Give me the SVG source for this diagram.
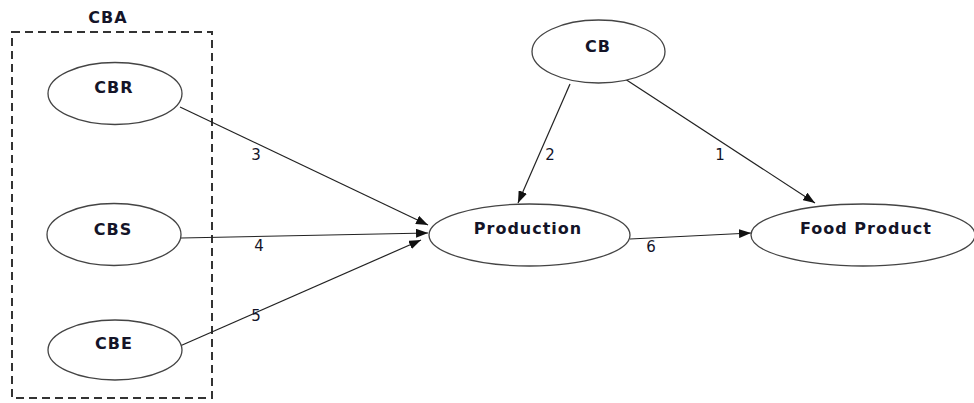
<svg xmlns="http://www.w3.org/2000/svg" width="974" height="403" viewBox="0 0 974 403">
<defs>
<style>
.node{fill:#fff;stroke:#444;stroke-width:1.3}
.lbl{font-family:"DejaVu Sans",sans-serif;font-weight:bold;font-size:16px;letter-spacing:1px;fill:#141428;text-anchor:middle}
.num{font-family:"DejaVu Sans",sans-serif;font-size:15px;fill:#141428;text-anchor:middle}
.edge{stroke:#222;stroke-width:1.2;fill:none;marker-end:url(#ah)}
</style>
<marker id="ah" markerUnits="userSpaceOnUse" markerWidth="13" markerHeight="9" refX="12" refY="4.5" orient="auto">
<path d="M0,0 L12,4.5 L0,9 z" fill="#111"/>
</marker>
</defs>
<rect width="974" height="403" fill="#fff"/>
<g id="group-CBA">
<rect x="12" y="32" width="200" height="366" fill="none" stroke="#333" stroke-width="2" stroke-dasharray="8,5"/>
<text class="lbl" x="108" y="23">CBA</text>
</g>
<g id="connectors">
<line class="edge" x1="180" y1="107" x2="428" y2="225"/>
<line class="edge" x1="181" y1="238" x2="428" y2="233"/>
<line class="edge" x1="180" y1="346" x2="421" y2="240"/>
<line class="edge" x1="570" y1="84" x2="518" y2="203"/>
<line class="edge" x1="622" y1="77" x2="815" y2="203"/>
<line class="edge" x1="630" y1="239" x2="751" y2="233"/>
<text class="num" x="256" y="160">3</text>
<text class="num" x="259" y="251">4</text>
<text class="num" x="256" y="321">5</text>
<text class="num" x="550" y="160">2</text>
<text class="num" x="720" y="160">1</text>
<text class="num" x="651" y="252">6</text>
</g>
<g id="node-CBR">
<ellipse class="node" cx="115" cy="93.5" rx="67" ry="31"/>
<text class="lbl" x="114" y="93">CBR</text>
</g>
<g id="node-CBS">
<ellipse class="node" cx="114" cy="234.5" rx="67" ry="31"/>
<text class="lbl" x="113" y="235">CBS</text>
</g>
<g id="node-CBE">
<ellipse class="node" cx="115" cy="350" rx="67" ry="30"/>
<text class="lbl" x="114" y="349">CBE</text>
</g>
<g id="node-CB">
<ellipse class="node" cx="598.5" cy="51.5" rx="66.5" ry="31.5"/>
<text class="lbl" x="598" y="52">CB</text>
</g>
<g id="node-Production">
<ellipse class="node" cx="529.5" cy="235" rx="100.5" ry="31"/>
<text class="lbl" x="528" y="234">Production</text>
</g>
<g id="node-FoodProduct">
<ellipse class="node" cx="863" cy="235" rx="112" ry="31"/>
<text class="lbl" x="866" y="234">Food Product</text>
</g>
</svg>
